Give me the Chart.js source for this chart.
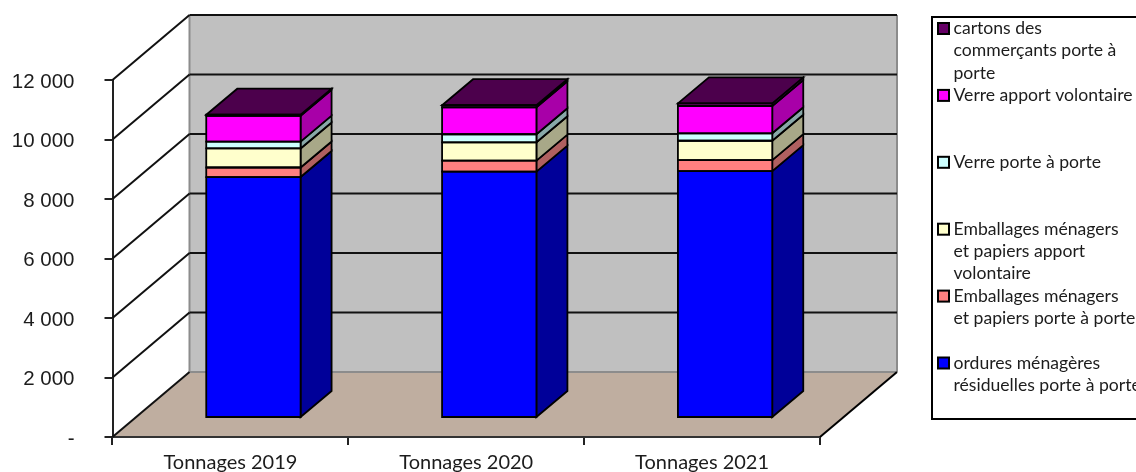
<!DOCTYPE html>
<html>
<head>
<meta charset="utf-8">
<style>
  html, body { margin: 0; padding: 0; background: #fff; overflow: hidden; }
  canvas { display: block; }
</style>
<script src="https://cdn.jsdelivr.net/npm/chart.js@4/dist/chart.umd.min.js"></script>
</head>
<body>
<canvas id="tonnagesChart" width="1136" height="472"></canvas>
<script>
const categories = ['Tonnages 2019', 'Tonnages 2020', 'Tonnages 2021'];

const ordures = [8100, 8280, 8300];
const emballagesPorte = [320, 370, 370];
const emballagesApport = [640, 617, 650];
const verrePorte = [230, 270, 250];
const verreApport = [865, 907, 917];
const cartons = [40, 70, 90];

const seriesLabels = [
  ['ordures ménagères', 'résiduelles porte à porte'],
  ['Emballages ménagers', 'et papiers porte à porte'],
  ['Emballages ménagers', 'et papiers apport', 'volontaire'],
  ['Verre porte à porte'],
  ['Verre apport volontaire'],
  ['cartons des', 'commerçants porte à', 'porte'],
];
const seriesValues = [ordures, emballagesPorte, emballagesApport, verrePorte, verreApport, cartons];
const faceColors = ['#0000ff', '#ff8080', '#ffffcc', '#ccffff', '#ff00ff', '#660066'];
const sideColors = ['#000099', '#b06060', '#a8a888', '#88a8a8', '#a800a8', '#a800a8'];
const topColor = '#4c004c';

// 3D offsets, in pixels
const wallDx = 77;
const wallDy = -65;
const barShiftX = 23;
const barShiftY = -19;
const barDx = 31;
const barDy = -26;

function poly(ctx, points, fill, stroke, lineWidth) {
  ctx.beginPath();
  points.forEach((p, i) => (i ? ctx.lineTo(p[0], p[1]) : ctx.moveTo(p[0], p[1])));
  ctx.closePath();
  if (fill) {
    ctx.fillStyle = fill;
    ctx.fill();
  }
  if (stroke) {
    ctx.strokeStyle = stroke;
    ctx.lineWidth = lineWidth;
    ctx.stroke();
  }
}

function line(ctx, x1, y1, x2, y2, color, lineWidth) {
  ctx.beginPath();
  ctx.moveTo(x1, y1);
  ctx.lineTo(x2, y2);
  ctx.strokeStyle = color;
  ctx.lineWidth = lineWidth;
  ctx.stroke();
}

function drawWalls(chart) {
  const { ctx, chartArea: a, scales } = chart;
  const y = scales.y;
  const backL = a.left + wallDx;
  const backR = a.right + wallDx;
  const backT = a.top + wallDy;
  const backB = a.bottom + wallDy;
  poly(ctx, [[backL, backT], [backR, backT], [backR, backB], [backL, backB]], '#c0c0c0');
  poly(ctx, [[a.left, a.bottom], [a.right, a.bottom], [backR, backB], [backL, backB]], '#bfaea0');
  line(ctx, backL, backT, backL, backB, '#8c8c8c', 2);
  line(ctx, backR, backT, backR, backB, '#8c8c8c', 2);
  line(ctx, backL, backB, backR, backB, '#8c8c8c', 2);
  line(ctx, a.left, a.bottom, a.right, a.bottom, '#333', 2);
  line(ctx, a.right, a.bottom, backR, backB, '#000', 2);
  y.ticks.forEach((tick) => {
    const py = y.getPixelForValue(tick.value);
    line(ctx, a.left, py, backL, py + wallDy, '#111', 2);
    if (tick.value > 0) {
      line(ctx, backL, py + wallDy, backR, py + wallDy, '#111', 2);
    }
  });
}

function drawBarSides(chart) {
  const { ctx } = chart;
  chart.data.datasets.forEach((dataset, d) => {
    chart.getDatasetMeta(d).data.forEach((bar) => {
      const right = bar.x + bar.width / 2;
      const left = bar.x - bar.width / 2;
      poly(ctx, [
        [right, bar.base],
        [right + barDx, bar.base + barDy],
        [right + barDx, bar.y + barDy],
        [right, bar.y],
      ], sideColors[d], '#000', 1.8);
      if (d === chart.data.datasets.length - 1) {
        poly(ctx, [
          [left, bar.y],
          [left + barDx, bar.y + barDy],
          [right + barDx, bar.y + barDy],
          [right, bar.y],
        ], topColor, '#000', 1.8);
      }
    });
  });
}

// outlines go on top of the bars so neighbouring segments share one line
function drawBarOutlines(chart) {
  const { ctx } = chart;
  chart.data.datasets.forEach((dataset, d) => {
    chart.getDatasetMeta(d).data.forEach((bar) => {
      const right = bar.x + bar.width / 2;
      const left = bar.x - bar.width / 2;
      poly(ctx, [[left, bar.base], [right, bar.base], [right, bar.y], [left, bar.y]], null, '#000', 1.8);
    });
  });
}

function drawLegend(chart) {
  const { ctx } = chart;
  const rowHeight = 66.9;
  const lineHeight = 22.3;
  ctx.save();
  ctx.strokeStyle = '#000';
  ctx.lineWidth = 2;
  ctx.strokeRect(932, 17, 220, 402);
  ctx.font = '17.6px Lato';
  ctx.textBaseline = 'middle';
  ctx.textAlign = 'left';
  chart.data.datasets.slice().reverse().forEach((dataset, i) => {
    const top = 28.5 + i * rowHeight;
    ctx.fillStyle = dataset.backgroundColor;
    ctx.fillRect(938, top - 5.5, 11, 11);
    ctx.strokeStyle = '#000';
    ctx.lineWidth = 2;
    ctx.strokeRect(938, top - 5.5, 11, 11);
    ctx.fillStyle = '#1c1c1c';
    dataset.legendLines.forEach((text, k) => {
      ctx.fillText(text, 953.5, top + k * lineHeight);
    });
  });
  ctx.restore();
}

const box3dPlugin = {
  id: 'box3d',
  beforeDatasetsDraw(chart) {
    drawWalls(chart);
    chart.ctx.save();
    chart.ctx.translate(barShiftX, barShiftY);
    drawBarSides(chart);
  },
  afterDatasetsDraw(chart) {
    drawBarOutlines(chart);
    chart.ctx.restore();
    drawLegend(chart);
  },
};

new Chart(document.getElementById('tonnagesChart'), {
  type: 'bar',
  data: {
    labels: categories,
    datasets: seriesValues.map((values, i) => ({
      label: seriesLabels[i].join(' '),
      legendLines: seriesLabels[i],
      data: values,
      backgroundColor: faceColors[i],
      borderWidth: 0,
      categoryPercentage: 1,
      barPercentage: 0.4,
    })),
  },
  options: {
    responsive: false,
    animation: false,
    events: [],
    clip: false,
    layout: { padding: { top: 80, right: 316, left: 0, bottom: 0 } },
    plugins: { legend: { display: false }, tooltip: { enabled: false }, title: { display: false } },
    scales: {
      x: {
        stacked: true,
        afterFit(scale) {
          scale.height = 35;
          scale.paddingLeft = 0;
          scale.paddingRight = 0;
        },
        grid: { drawOnChartArea: false, drawTicks: true, tickLength: 8, color: '#222', lineWidth: 2 },
        border: { display: false },
        ticks: { color: '#1c1c1c', font: { family: 'Lato', size: 20 }, padding: 6, maxRotation: 0 },
      },
      y: {
        stacked: true,
        min: 0,
        max: 12000,
        afterFit(scale) {
          scale.width = 112.5;
          scale.paddingTop = 0;
          scale.paddingBottom = 0;
        },
        grid: { drawOnChartArea: false, drawTicks: true, tickLength: 8, color: '#222', lineWidth: 2 },
        border: { display: true, color: '#222', width: 2 },
        ticks: {
          stepSize: 2000,
          color: '#1c1c1c',
          padding: 30,
          labelOffset: 2,
          font: { family: 'Liberation Sans', size: 20.5 },
          callback(value) {
            return value === 0 ? '-' : String(value).replace(/\B(?=(\d{3})+$)/g, ' ');
          },
        },
      },
    },
  },
  plugins: [box3dPlugin],
});
</script>
</body>
</html>
